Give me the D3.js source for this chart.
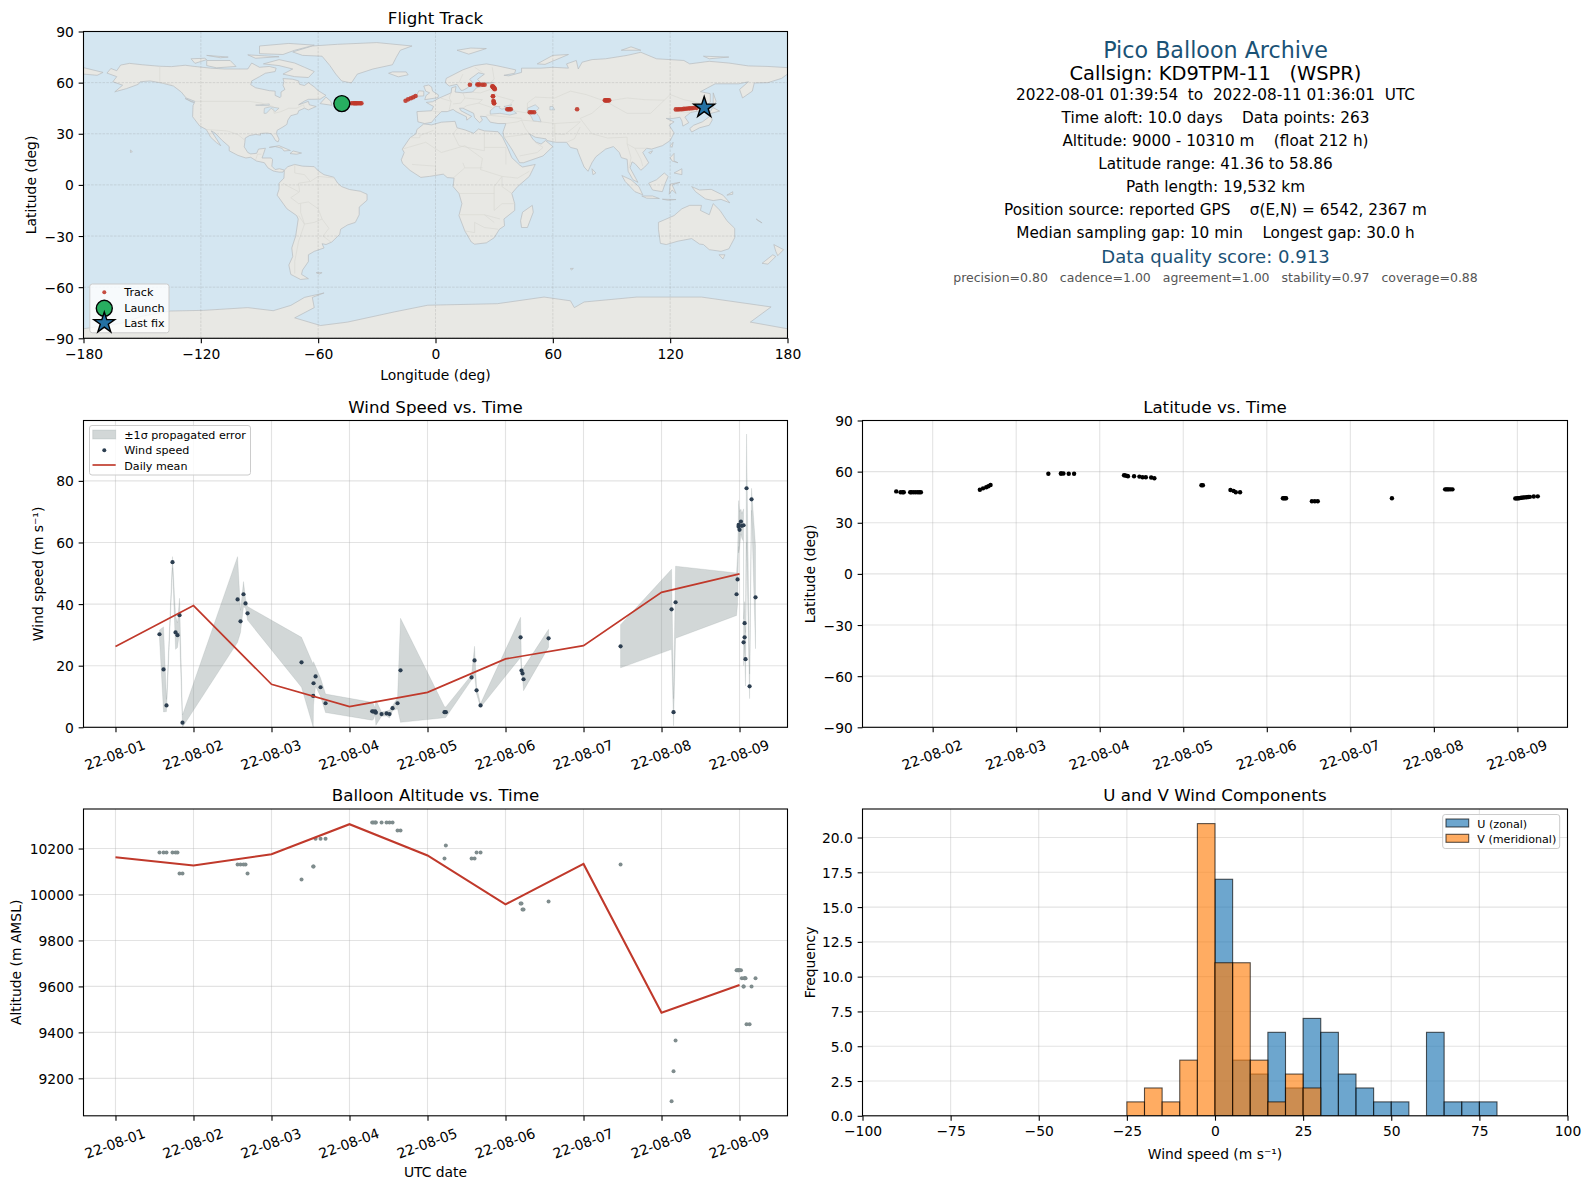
<!DOCTYPE html>
<html>
<head>
<meta charset="utf-8">
<title>Pico Balloon Archive</title>
<script src="https://cdn.jsdelivr.net/npm/d3@7"></script>
<style>
html, body { margin: 0; padding: 0; background: #fff; }
svg text { font-family: "DejaVu Sans", sans-serif; fill: #000; }
</style>
</head>
<body>
<div id="drawing-area"></div>
<script>
// tick labels
var dateLabels = ['22-08-01','22-08-02','22-08-03','22-08-04','22-08-05','22-08-06','22-08-07','22-08-08','22-08-09'];
var lonTicks = [-180,-120,-60,0,60,120,180];
var latTicks = [-90,-60,-30,0,30,60,90];
var windTicks = [0,20,40,60,80];
var altTicks = [9200,9400,9600,9800,10000,10200];
var histXTicks = [-100,-75,-50,-25,0,25,50,75,100];
var histYTicks = [0,2.5,5,7.5,10,12.5,15,17.5,20];

// daily means, index = days since 22-08-01
var meanDays = [0,1,2,3,4,5,6,7,8];
var meanWind = [26.2,39.5,13.95,6.7,11.35,22.2,26.5,43.8,49.8];
var meanAlt = [10162,10126,10175,10306,10170,9957,10133,9486,9606];

// wind samples (null = break in the error band)
var windTime = [.564,.616,.654,.731,.770,.795,.821,.859,1.565,1.603,1.641,1.667,1.693,2.385,2.535,2.539,2.565,2.629,2.693,
  3.291,3.308,3.329,3.338,3.411,3.475,3.513,3.552,3.616,3.654,4.218,4.235,4.565,4.603,4.629,4.680,5.193,5.205,5.218,5.231,5.552,
  6.000,6.475,7.129,7.154,7.180,7.962,7.975,7.988,7.988,8.000,8.018,8.030,8.052,8.052,8.065,8.065,8.077,8.090,8.129,8.154,8.205];
var windSpeed = [30.2,18.8,7.1,53.6,30.8,29.9,36.4,1.5,41.5,34.4,43.2,40.2,37.0,21.1,10.2,14.3,16.5,13.0,7.8,
  5.2,5.1,5.2,4.75,4.3,4.5,4.3,6.2,7.8,18.5,4.9,4.9,16.2,21.7,12.0,7.1,29.2,18.4,17.5,15.6,28.9,
  null,26.3,38.3,4.9,40.6,43.2,48.0,65.7,65.1,64.1,66.8,65.4,65.6,27.6,33.8,29.2,22.1,77.6,13.3,74.0,42.2];
var windErr = [1.4,13.8,2,1.8,5.5,4,5.5,2.5,13.9,3.6,4.1,1.5,2.2,8.1,10.2,7,3.2,3,3,
  2.9,2.5,1,4.1,.7,.8,1.3,.8,1.8,16.9,1.8,1.7,.8,4.6,1.2,.6,6.5,1.5,1.5,3.7,2.9,
  null,7,13,4.4,11.7,6.9,8,7,8.5,6,4,4,5.3,7.6,7,5,8.7,17.6,4,3.6,16.7];
var windAlt = [10183,10183,10183,10183,10183,10183,10091,10091,10130,10130,10130,10130,10091,10065,10122,10122,10243,10243,10243,
  10313,10313,10313,10313,10313,10313,10313,10313,10278,10278,10157,10213,10157,10157,10183,10183,9961,9961,9935,9935,9970,
  null,10130,9100,9231,9365,9670,9670,9670,9670,9670,9670,9635,9600,9600,9635,9635,9635,9435,9435,9600,9635];

// position samples
var trackTime = [.564,.616,.640,.654,.731,.745,.770,.795,.821,.840,.859,1.565,1.603,1.641,1.667,1.693,2.385,2.535,2.539,2.565,2.629,2.693,
  3.291,3.308,3.329,3.338,3.411,3.475,3.513,3.552,3.616,3.654,4.218,4.235,4.565,4.603,4.629,4.680,5.193,5.205,5.218,5.231,5.540,5.575,5.610,
  6.498,7.135,7.150,7.165,7.180,7.200,7.223,7.975,7.990,8.005,8.020,8.035,8.050,8.070,8.090,8.110,8.130,8.150,8.196,8.244];
var trackLat = [48.4,47.9,47.9,47.9,47.9,47.9,47.9,47.9,47.9,47.9,47.9,49.4,50.2,50.8,51.4,52.2,58.8,58.9,58.9,58.9,58.8,58.8,
  57.85,57.7,57.5,57.3,57.3,57.1,56.7,56.7,56.6,56.1,52,52,49.25,48.7,47.9,47.9,44.4,44.4,44.4,44.4,42.6,42.6,42.6,
  44.4,49.6,49.6,49.6,49.6,49.6,49.6,44.3,44.3,44.4,44.4,44.6,44.7,44.8,44.9,45.0,45.1,45.2,45.4,45.5];
var trackLon = [-47.9,-45,-43,-42,-41.5,-41,-40.5,-40,-39.2,-38.5,-37.9,-15.3,-14,-12.6,-11.4,-10.2,17.6,21.4,21.9,22.5,24,25.1,
  29.1,29.2,29.4,29.5,29.6,29.7,29.9,30,30.2,30.3,29.4,29.4,29.6,29.8,29.9,30,36.7,37.2,37.9,38.5,48.2,49.2,50.4,
  72.4,86.6,87,87.4,87.8,88.3,88.8,122.9,124,125,126,127,128,129,130,131,132,133.5,135.7,137.4];
var launchLon = [-47.9], launchLat = [47.7], lastLon = [137.4], lastLat = [45.4];

// histogram of wind components, 5 m/s bins, left edges
var histBins = [-25,-20,-15,-10,-5,0,5,10,15,20,25,30,35,40,45,50,55,60,65,70,75];
var uCounts = [0,0,0,0,0,17,4,3,6,2,7,6,3,2,1,1,0,6,1,1,1];
var vCounts = [1,2,1,4,21,11,11,4,1,3,2,0,0,0,0,0,0,0,0,0,0];

// land outlines as lon,lat pairs (rough, read from the map)
var landShapes = [
 [[-168,65.6],[-166,68.3],[-163,67],[-161,70.3],[-156.5,71.3],[-150,70.5],[-141,69.6],[-135,69.4],[-128,70.2],[-124,69.6],[-115,68.5],[-108,68],[-100,68],[-96,68],[-94,71.5],[-90,69],[-85,69.5],[-81.5,68.5],[-82,66.5],[-87,65.5],[-90,63.5],[-94,61],[-94.5,58.8],[-92,57],[-85,55.3],[-82,55],[-82,52.5],[-79.5,51.2],[-79,52],[-79,54.5],[-77,56],[-78,58.5],[-77.5,60.5],[-78,62.4],[-73,62],[-70,61],[-69.5,59],[-67,58.3],[-65,60],[-62,57.5],[-60,55.3],[-56,52.5],[-59,50.3],[-65,50.2],[-67,49.2],[-70,47],[-65,49],[-64.5,47],[-61,46],[-65,44],[-67,45],[-70,43.5],[-70.5,41.7],[-74,40.6],[-75.5,38],[-76,35.5],[-78,34],[-81,32],[-81.3,30],[-80,26.8],[-80.5,25.2],[-81.8,26],[-82.8,28],[-84,30],[-86,30.4],[-89.5,30.2],[-89.5,29.2],[-92,29.6],[-95,29],[-97.3,27.5],[-97.5,25],[-97.8,22.3],[-96,19],[-94.5,18.2],[-91.5,18.5],[-90.5,21],[-87,21.5],[-88,18],[-88.7,15.8],[-84,15.8],[-83.3,14.8],[-83.7,11],[-82,9],[-79.8,9.5],[-77.3,8.7],[-78,7.5],[-80,7.5],[-81.5,7.8],[-83,8.2],[-85.7,10],[-87.5,13],[-91.5,14],[-94.5,16.2],[-97,15.8],[-101,17.3],[-105.5,20],[-105.5,22.5],[-109,26],[-112.8,30.5],[-114.7,31.7],[-112,27],[-109.8,23],[-112,24.8],[-115,28],[-117.2,32.5],[-120.6,34.6],[-124.2,40],[-124,46.5],[-123,49],[-127.5,51],[-130,54.5],[-134,58],[-140,59.8],[-146,61],[-151,60.5],[-152,59],[-158,56.5],[-164,54.6],[-160,58.5],[-165,60.5],[-163,63.5]],
 [[-73,78],[-68,76],[-58,75.5],[-54,70],[-51,65],[-48,61],[-43,59.8],[-40,65],[-32,68],[-22,70.5],[-20,75],[-18,79],[-12,81.5],[-30,83.5],[-50,82.5],[-63,81.5]],
 [[-80,73.5],[-72,71.5],[-67,69],[-62,66.5],[-65,63],[-72,63.5],[-78,65],[-73,68],[-80,70],[-88,71]],
 [[-117,73],[-105,73],[-102,69.5],[-112,68.7],[-117,70]],
 [[-125,74],[-118,74.3],[-117,73.5],[-123,71.3]],
 [[-90,77],[-78,76.5],[-72,79],[-62,82],[-75,83],[-90,81.5]],
 [[-96,76.3],[-80,75.2],[-92,74.3]],
 [[-117,76],[-106,75],[-110,74.6]],
 [[-59,47.7],[-53,46.7],[-53.5,49],[-56,51.5]],
 [[-128,50.7],[-123.5,48.4],[-125,48.8]],
 [[-85,22],[-80,23],[-74.2,20.2],[-77.5,19.9],[-78.5,21.5],[-82,22.5]],
 [[-74.4,18.4],[-72.8,19.9],[-68.5,18.7],[-71,18]],
 [[-156,20.5],[-155,19.5],[-156,19]],
 [[-77.3,8.7],[-75.5,10.7],[-72,12],[-68,11],[-62,10.7],[-60,8.3],[-57,6],[-52,4.5],[-50,1],[-48,-1],[-44,-2.7],[-38.5,-3.7],[-35,-5.5],[-35,-9],[-39,-13],[-39,-17.5],[-41,-22],[-45,-23.5],[-48.5,-26],[-49,-29],[-53,-33.5],[-56,-35],[-58,-34.5],[-57,-37],[-62,-39],[-65,-41],[-65,-45],[-68,-50],[-68.5,-52.5],[-65,-55],[-69,-55.5],[-74,-52.5],[-75,-47],[-73,-42],[-73.5,-37],[-71.5,-30],[-70.2,-20],[-71,-18],[-76,-14],[-81,-6],[-80,-2.5],[-80,1],[-77.5,4]],
 [[-61,-51.5],[-58,-51.5],[-59.5,-52.3]],
 [[-6,35.8],[-2,35.2],[3,36.8],[10,37.3],[11,33.5],[15,32.3],[19.5,30.3],[22,32.8],[25,31.7],[32,31.2],[34.3,28],[37,21.5],[39,16],[43,11.7],[44.5,10.5],[51,12],[48,5],[42,-1],[39,-5],[40.5,-11],[40.5,-15],[35,-20],[35.3,-24],[32.7,-26],[30,-31],[26,-34],[20,-34.8],[18.3,-33.5],[15,-27],[12,-18],[13.5,-11],[12,-5],[9,-1],[9.5,4],[6,4.3],[4,6.3],[-3,5],[-7.5,4.4],[-13,8.5],[-16.8,12.5],[-17.5,14.7],[-16,19],[-17,21],[-13,27.7],[-10,30],[-9.5,32.5]],
 [[-5.5,36],[-9,37],[-9.5,43],[-2,43.5],[-1,46],[-4.7,48.4],[-1.5,48.8],[2,51],[4,52],[8,54],[8.3,57],[10.5,57.7],[10,54.5],[14,54],[19,54.5],[21,57],[24,57.8],[24,59.3],[30,60],[23,60],[21.5,62],[25,65],[22,65.8],[17.5,62],[19,60],[16.5,57],[14,55.5],[13,55.5],[11,59],[7,58],[5,60],[5.5,62.5],[14,67.5],[20,70],[26,71],[31,70],[41,67.5],[40.5,65.5],[35,64.3],[37.5,64],[44,66],[44,68.5],[54,68.5],[60,69],[68,68.5],[67,71],[72,73],[73,68],[75,72],[80,73.5],[87,74],[98,76],[105,77.8],[113,74],[127,73],[130,71],[140,72.5],[150,71.5],[160,69.8],[170,69.5],[180,68.8],[180,65],[177,62.5],[170,60],[163,59.8],[162,55],[157,51],[155.5,56],[160,60.5],[155,59.3],[143,59.3],[135.5,54.7],[140.5,53.5],[140.5,48.5],[135,43.5],[130.5,42.5],[127.5,39.8],[129.5,36.5],[126.5,34.5],[126,37.5],[125,39.7],[121.5,39],[118,39],[122,37],[119.5,35],[122,30.5],[120,26],[116,23],[110.5,21],[108,21.5],[106,19],[109,13],[107,10.5],[105,8.6],[102,12.5],[100.5,13.5],[99.5,10],[103.5,1.5],[101,3],[98.5,8],[98,15],[95,16],[94,19],[91,22.5],[87,21],[82,16.5],[80,13],[78,8],[76,10.5],[73,19],[72.5,21],[69,22],[67,25],[61.5,25],[57,26],[56.5,27],[51,28],[48,30],[50,26.5],[51.5,25],[54,24],[56.3,26],[60,22.5],[55,17],[45,13],[43,13],[39,21],[35,28],[34.5,31],[36,36],[32,36],[28,36.8],[26.5,39],[26,40],[23,40.3],[24,38],[22.5,36.5],[20,39.5],[19.5,42],[14,45],[12.3,45],[13,43.5],[18.5,40.2],[16,38],[15.8,40],[10.5,43],[9,44.3],[6,43],[3,43],[0,39.5],[-2,36.7]],
 [[-180,68.8],[-170,66],[-173,64.3],[-180,65]],
 [[-5.5,50],[1.3,51.2],[1.5,52.8],[-1.5,55],[-2,57.5],[-3.5,58.6],[-6,58],[-5,55],[-3,54],[-4.8,52.5]],
 [[-10,52],[-6,52.2],[-6,55],[-8.5,55.2]],
 [[-24,65.5],[-19,63.4],[-14,64.6],[-15,66.3],[-22,66.3]],
 [[11,79],[17,76.7],[26,80],[18,80.3]],
 [[52,71],[56,70.7],[68,76.5],[60,76]],
 [[95,79],[105,79],[100,81]],
 [[137,75.5],[150,75],[140,74]],
 [[142,54],[143.5,49],[142,46],[142,50]],
 [[140,42],[141.8,45.4],[145.3,43.3],[141,42]],
 [[130,33],[131,31],[135,33.5],[140,35],[141.5,38],[141,41],[140,40],[136.5,37],[132,35]],
 [[120,23],[121.5,25],[121,22]],
 [[109,19],[111,20],[110,18.3]],
 [[120,16],[122,18.5],[122,14],[124,13],[121,14]],
 [[122,7],[126,9.5],[126,6]],
 [[109,1],[113,3],[117,7],[119,5],[117.5,1],[116,-4],[111,-3]],
 [[95.3,5.5],[100,3],[104,-1],[106,-5.8],[102,-4],[97,2]],
 [[105.5,-6.5],[111,-6.5],[114.5,-8],[108,-7.8]],
 [[116,-8.4],[120,-8.5],[123,-8.6],[119,-9]],
 [[119.5,-5.5],[120,.5],[125,1.5],[121,0],[123,-5],[121,-3]],
 [[131,-1],[135,-3],[141,-2.6],[147,-6],[150.5,-10.5],[146,-8.5],[142,-9.2],[138,-8.2],[133,-4]],
 [[149,-6],[152,-4],[152,-5.5]],
 [[114,-22],[122,-18],[126,-14],[130,-12],[136,-12],[135.5,-15],[140,-17.5],[142,-11],[145.5,-15],[149,-21],[153,-25.5],[153,-31],[150,-37.5],[146,-39],[140,-38],[137,-35],[135,-34.7],[131,-31.5],[124,-33],[118,-35],[115,-34.3],[114,-26]],
 [[145,-41],[148,-41],[147,-43.5]],
 [[173,-35],[178,-38],[175,-41.5],[174,-39]],
 [[172.5,-41],[174,-42],[170,-46.5],[167,-46]],
 [[165,-21],[167,-22.3],[164,-20]],
 [[49.5,-12],[50,-16],[47,-25],[44,-25],[43.5,-21],[44.5,-16]],
 [[80,9.5],[82,7],[80.5,6]],
 [[69,-49],[70.5,-49],[69.5,-50]],
 [[-180,-84.4],[-160,-81],[-150,-77],[-135.6,-74],[-118.6,-73.6],[-96,-72],[-83,-73.8],[-74,-70.7],[-67,-66],[-57,-63.4],[-63,-66],[-62,-72],[-72,-78],[-58.8,-82.5],[-45,-80.5],[-21,-74.5],[-4,-70.6],[31.6,-69.7],[55.5,-65.8],[69,-68],[71,-72],[76,-68.7],[103,-65.8],[136,-65.8],[171.6,-71.6],[161,-80.5],[180,-84.4],[180,-90],[-180,-90]]
];
var waterShapes = [
 [[28,41.5],[28,43.5],[30.5,46],[33,46],[32.5,45.2],[34,44.4],[36.5,45.2],[35,46],[39,47],[37.5,45.5],[41.5,42],[38,41],[33,42]],
 [[47,45],[51,47],[53,45],[51,43],[53,40],[54,37],[50,37.5],[49,40],[47,43]],
 [[-92,46.8],[-85,47.5],[-85,46.5],[-90,46.6]],
 [[-87.5,45],[-84.5,45.8],[-80,45],[-82,43],[-84,45],[-86.5,42],[-87.7,42]],
 [[60,46],[61,44],[58.5,44],[58.5,46]]
];
var borderLines = [
 [[-123,49],[-95,49],[-89,48],[-83,46],[-82.5,42],[-79,43],[-75,45],[-71,45],[-67.5,47],[-67,45]],
 [[-141,69.6],[-141,60],[-135,59]],
 [[-117,32.5],[-107,31.7],[-106,31.5],[-101,29.5],[-97.3,26]],
 [[-92,14.5],[-91,18],[-89,18]],
 [[-51.5,4],[-60,5],[-64,2],[-70,1],[-69.5,-4],[-74,-7.5],[-70,-11],[-65,-10],[-60,-14],[-58,-20],[-54.5,-25.5],[-57.5,-30],[-53.5,-33.5]],
 [[-70,-18],[-67,-23],[-70,-33],[-72,-45],[-72,-52]],
 [[-78,1],[-75,-1],[-70,-4]],[[-72,12],[-72,7],[-67,6],[-64,2]],[[-69,-11],[-69,-16],[-67,-23],[-62,-22],[-58,-20]],
 [[-13,27.7],[-8,27.7],[-8,29],[-1,32]],[[11,33],[9,30],[12,23],[25,20],[25,31.5]],[[25,22],[36,22]],
 [[-17,21],[-5,25],[3,19],[15,23],[24,15.5],[23,9],[34,5],[42,4],[48,8]],
 [[12,-5],[30,-5],[30,-15]],[[12,-17.5],[25,-17.5],[33,-20]],[[15,-27],[20,-28],[20,-22],[25,-25],[32,-26]],
 [[9,4],[15,10],[14,13]],[[0,6],[0,11],[-12,12]],[[15,10],[24,10]],[[34,5],[30,-1],[30,-5]],[[39,-5],[34,-1],[34,5]],
 [[40.5,-11],[34,-11],[30,-15]],[[36,12],[36,22]],[[25,-17.5],[30,-22]],
 [[28,60],[28,56],[32,52],[40,49.5],[38,47],[40,43.5],[48,42],[47,45],[47,48],[51,51.5],[61,51],[69,55],[77,53],[87,49],[98,51],[107,50],[117,49.7],[120,53],[127,50],[135,48],[131,43]],
 [[74,39],[80,30],[88,27.5],[98,28],[98,24],[102,21.5],[108,21.5]],[[74,39],[80,42],[87,49]],[[98,42],[110,42],[117,49.7]],[[87,49],[98,42]],
 [[44,38],[46,33],[48,30]],[[44,38],[54,37]],[[61,36],[61,30],[61.5,25]],[[26,41],[44,39]],[[36,36],[42,37],[44,38]],[[54,37],[61,36],[74,37]],[[61,30],[66,29.5],[71,34],[74,37]],[[67,25],[71,27],[74,34]],
 [[35,28],[42,29],[48,30]],[[52,19],[55,22],[51,25]],[[43,17],[52,19]],
 [[-1.5,43.3],[3,42.5]],[[2.5,51],[8,49],[7,44]],[[14,54],[15,51],[24,50],[22,48],[29,45.3]],[[19,54.3],[23,54],[28,56]],[[8,54],[7,51],[8,49]],[[15,51],[13,48],[9,47.5]],[[22,48],[16,46.5],[14,45]],
 [[29,69],[30,62],[28,60]],[[20,69],[24,66]],[[14,65],[12,60]],
 [[98,24],[100,16],[99,10]],[[102,21.5],[105,15],[106,11]],[[125,43],[130.5,42.5]]
];

var sx = 1590, sy = 1189;
var svg = d3.select('#drawing-area').append('svg').attr('width', sx).attr('height', sy).style('display', 'block');

var PT = 100 / 72;
var tickFont = 10 * PT, titleFont = 12 * PT, labelFont = 10 * PT, legendFont = 8 * PT;
var tickLen = 3.5 * PT;
var RED = '#c0392b';

var colLeft = [83.5, 862.5], colWidth = [704, 705];
var rowTop = [31.5, 420.5, 809], rowHeight = 306.8;

var clipCount = 0;

// one axes box with grid, ticks, title
function makePanel(o) {
    var left = colLeft[o.col], top = rowTop[o.row], w = colWidth[o.col], h = rowHeight;
    var x = d3.scaleLinear().domain(o.xDomain).range([left, left + w]);
    var y = d3.scaleLinear().domain(o.yDomain).range([top + h, top]);
    var id = 'clip' + (clipCount++);
    svg.append('clipPath').attr('id', id).append('rect').attr('x', left).attr('y', top).attr('width', w).attr('height', h);

    var back = svg.append('g');
    var body = svg.append('g').attr('clip-path', 'url(#' + id + ')');
    var front = svg.append('g');

    if (!o.noGrid) drawGrid(back, x, y, o, { stroke: '#b0b0b0', opacity: 0.35, width: 1.1, dash: null });

    var xAxis = d3.axisBottom(x).tickValues(o.xTicks).tickSize(tickLen).tickSizeOuter(0).tickPadding(4.8).tickFormat(o.xFormat);
    var yAxis = d3.axisLeft(y).tickValues(o.yTicks).tickSize(tickLen).tickSizeOuter(0).tickPadding(4.8).tickFormat(o.yFormat);
    var gx = front.append('g').attr('transform', 'translate(0,' + (top + h) + ')').call(xAxis);
    var gy = front.append('g').attr('transform', 'translate(' + left + ',0)').call(yAxis);
    [gx, gy].forEach(function (g) {
        g.select('.domain').remove();
        g.selectAll('line').attr('stroke', '#000').attr('stroke-width', 1.1);
        g.selectAll('text').attr('font-size', tickFont).attr('font-family', '"DejaVu Sans"');
    });
    gy.selectAll('text').attr('dy', '0.36em');
    gx.selectAll('text').attr('dy', '0.77em');
    if (o.rotate) {
        gx.selectAll('text')
            .attr('y', 0).attr('dy', null)
            .attr('dominant-baseline', 'central')
            .attr('text-anchor', 'middle')
            .attr('transform', 'translate(-1,27.5) rotate(-20)');
    }

    front.append('rect').attr('x', left).attr('y', top).attr('width', w).attr('height', h)
        .attr('fill', 'none').attr('stroke', '#000').attr('stroke-width', 1.1);

    front.append('text').attr('x', left + w / 2).attr('y', top - 8).attr('text-anchor', 'middle')
        .attr('font-size', titleFont).text(o.title);
    if (o.xLabel) {
        front.append('text').attr('x', left + w / 2).attr('y', top + h + (o.xLabelGap || 41.5)).attr('text-anchor', 'middle')
            .attr('font-size', labelFont).text(o.xLabel);
    }
    if (o.yLabel) {
        front.append('text').attr('transform', 'translate(' + (left + (o.yLabelGap || -48)) + ',' + (top + h / 2) + ') rotate(-90)')
            .attr('text-anchor', 'middle').attr('font-size', labelFont).text(o.yLabel);
    }
    return { x: x, y: y, back: back, body: body, front: front, left: left, top: top, w: w, h: h };
}

function drawGrid(g, x, y, o, st) {
    var ln = g.append('g').attr('fill', 'none').attr('stroke', st.stroke).attr('stroke-opacity', st.opacity)
        .attr('stroke-width', st.width).attr('stroke-dasharray', st.dash);
    o.xTicks.forEach(function (t) {
        ln.append('line').attr('x1', x(t)).attr('x2', x(t)).attr('y1', y.range()[0]).attr('y2', y.range()[1]);
    });
    o.yTicks.forEach(function (t) {
        ln.append('line').attr('y1', y(t)).attr('y2', y(t)).attr('x1', x.range()[0]).attr('x2', x.range()[1]);
    });
}

function fmtMinus(d) { return String(d).replace('-', '\u2212'); }
function fmtDate(d) { return dateLabels[d]; }

function legendBox(p, bx, by, bw, bh) {
    return p.front.append('rect').attr('x', bx).attr('y', by).attr('width', bw).attr('height', bh).attr('rx', 2.5)
        .attr('fill', '#fff').attr('fill-opacity', 0.8).attr('stroke', '#ccc').attr('stroke-width', 1);
}
function legendText(p, tx, cy, label) {
    p.front.append('text').attr('x', tx).attr('y', cy).attr('dy', '0.36em').attr('font-size', legendFont).text(label);
}

// ---- flight track
var mp = makePanel({
    col: 0, row: 0, title: 'Flight Track', noGrid: true,
    xDomain: [-180, 180], yDomain: [-90, 90], xTicks: lonTicks, yTicks: latTicks,
    xFormat: fmtMinus, yFormat: fmtMinus, xLabel: 'Longitude (deg)', yLabel: 'Latitude (deg)', xLabelGap: 41.5
});
mp.body.append('rect').attr('x', mp.left).attr('y', mp.top).attr('width', mp.w).attr('height', mp.h).attr('fill', '#d4e6f1');
var geoLine = d3.line().x(function (d) { return mp.x(d[0]); }).y(function (d) { return mp.y(d[1]); });
mp.body.selectAll('path.land').data(landShapes).enter().append('path').attr('class', 'land')
    .attr('d', function (d) { return geoLine(d) + 'Z'; })
    .attr('fill', '#e8e8e4').attr('stroke', '#b8bcbe').attr('stroke-width', 0.7);
mp.body.selectAll('path.lake').data(waterShapes).enter().append('path').attr('class', 'lake')
    .attr('d', function (d) { return geoLine(d) + 'Z'; })
    .attr('fill', '#d4e6f1').attr('stroke', '#b8bcbe').attr('stroke-width', 0.6);
mp.body.selectAll('path.border').data(borderLines).enter().append('path').attr('class', 'border')
    .attr('d', geoLine).attr('fill', 'none').attr('stroke', '#d6d6d2').attr('stroke-width', 0.6);
drawGrid(mp.body, mp.x, mp.y, { xTicks: lonTicks, yTicks: latTicks }, { stroke: '#808080', opacity: 0.3, width: 0.7, dash: '2.6,1.2' });

mp.body.selectAll('circle.trk').data(trackLon).enter().append('circle').attr('class', 'trk')
    .attr('cx', function (d) { return mp.x(d); })
    .attr('cy', function (d, i) { return mp.y(trackLat[i]); })
    .attr('r', 2.3).attr('fill', RED).attr('fill-opacity', 0.9);
mp.body.append('circle').attr('cx', mp.x(launchLon[0])).attr('cy', mp.y(launchLat[0])).attr('r', 8)
    .attr('fill', '#27ae60').attr('stroke', '#000').attr('stroke-width', 1.4);
var starPath = d3.symbol().type(d3.symbolStar).size(136)();
mp.body.append('path').attr('d', starPath)
    .attr('transform', 'translate(' + mp.x(lastLon[0]) + ',' + mp.y(lastLat[0]) + ')')
    .attr('fill', '#2471a3').attr('stroke', '#000').attr('stroke-width', 1.4);

legendBox(mp, 89.8, 284, 79.2, 48.8);
mp.front.append('circle').attr('cx', 104.3).attr('cy', 292.3).attr('r', 2).attr('fill', RED).attr('fill-opacity', 0.9);
mp.front.append('circle').attr('cx', 104.3).attr('cy', 308.3).attr('r', 8).attr('fill', '#27ae60').attr('stroke', '#000').attr('stroke-width', 1.4);
mp.front.append('path').attr('d', starPath).attr('transform', 'translate(104.3,323)').attr('fill', '#2471a3').attr('stroke', '#000').attr('stroke-width', 1.4);
legendText(mp, 124.3, 292.3, 'Track');
legendText(mp, 124.3, 308, 'Launch');
legendText(mp, 124.3, 323, 'Last fix');

// ---- summary text
var infoX = 1215.5;
var infoLines = [
    { t: 'Pico Balloon Archive', y: 50, s: 16, c: '#1a5276' },
    { t: 'Callsign: KD9TPM-11   (WSPR)', y: 72.7, s: 14, c: '#000' },
    { t: '2022-08-01 01:39:54  to  2022-08-11 01:36:01  UTC', y: 94, s: 11, c: '#000' },
    { t: 'Time aloft: 10.0 days    Data points: 263', y: 117.3, s: 11, c: '#000' },
    { t: 'Altitude: 9000 - 10310 m    (float 212 h)', y: 140.3, s: 11, c: '#000' },
    { t: 'Latitude range: 41.36 to 58.86', y: 163.3, s: 11, c: '#000' },
    { t: 'Path length: 19,532 km', y: 186.3, s: 11, c: '#000' },
    { t: 'Position source: reported GPS    \u03c3(E,N) = 6542, 2367 m', y: 209.3, s: 11, c: '#000' },
    { t: 'Median sampling gap: 10 min    Longest gap: 30.0 h', y: 232.3, s: 11, c: '#000' },
    { t: 'Data quality score: 0.913', y: 256.7, s: 13, c: '#1a5276' },
    { t: 'precision=0.80   cadence=1.00   agreement=1.00   stability=0.97   coverage=0.88', y: 277.7, s: 9, c: '#555' }
];
svg.selectAll('text.info').data(infoLines).enter().append('text').attr('class', 'info')
    .attr('x', infoX).attr('y', function (d) { return d.y; }).attr('dy', '0.36em')
    .attr('text-anchor', 'middle').attr('xml:space', 'preserve').style('white-space', 'pre')
    .attr('font-size', function (d) { return d.s * PT; })
    .style('fill', function (d) { return d.c; })
    .text(function (d) { return d.t; });

// ---- wind speed
var wp = makePanel({
    col: 0, row: 1, title: 'Wind Speed vs. Time', rotate: true,
    xDomain: [-.41, 8.615], yDomain: [0, 99.6], xTicks: meanDays, yTicks: windTicks,
    xFormat: fmtDate, yFormat: fmtMinus, yLabel: 'Wind speed (m s\u207b\u00b9)', yLabelGap: -41
});
var windIdx = d3.range(windTime.length);
var band = d3.area()
    .defined(function (i) { return windSpeed[i] !== null; })
    .x(function (i) { return wp.x(windTime[i]); })
    .y0(function (i) { return wp.y(Math.max(0, windSpeed[i] - windErr[i])); })
    .y1(function (i) { return wp.y(windSpeed[i] + windErr[i]); });
wp.body.append('path').datum(windIdx).attr('d', band)
    .attr('fill', '#7f8c8d').attr('fill-opacity', 0.35).attr('stroke', '#7f8c8d').attr('stroke-opacity', 0.2).attr('stroke-width', 0.8);
wp.body.selectAll('circle.w').data(windIdx.filter(function (i) { return windSpeed[i] !== null; })).enter().append('circle').attr('class', 'w')
    .attr('cx', function (i) { return wp.x(windTime[i]); })
    .attr('cy', function (i) { return wp.y(windSpeed[i]); })
    .attr('r', 2.1).attr('fill', '#2c3e50');
var meanLine = d3.line().x(function (d, i) { return wp.x(meanDays[i]); }).y(function (d) { return wp.y(d); });
wp.body.append('path').datum(meanWind).attr('d', meanLine).attr('fill', 'none').attr('stroke', RED).attr('stroke-width', 1.5 * PT * 0.8);

legendBox(wp, 89.5, 425.5, 161, 49.5);
wp.front.append('rect').attr('x', 92.7).attr('y', 430).attr('width', 23).attr('height', 9).attr('fill', '#7f8c8d').attr('fill-opacity', 0.35).attr('stroke', '#7f8c8d').attr('stroke-opacity', 0.2);
wp.front.append('circle').attr('cx', 104.3).attr('cy', 450.3).attr('r', 2).attr('fill', '#2c3e50');
wp.front.append('line').attr('x1', 92.5).attr('x2', 115.7).attr('y1', 465).attr('y2', 465).attr('stroke', RED).attr('stroke-width', 1.5 * PT * 0.8);
legendText(wp, 124.3, 435.3, '\u00b11\u03c3 propagated error');
legendText(wp, 124.3, 450.3, 'Wind speed');
legendText(wp, 124.3, 466, 'Daily mean');

// ---- latitude
var lp = makePanel({
    col: 1, row: 1, title: 'Latitude vs. Time', rotate: true,
    xDomain: [.16, 8.6], yDomain: [-90, 90], xTicks: meanDays.slice(1), yTicks: latTicks,
    xFormat: fmtDate, yFormat: fmtMinus, yLabel: 'Latitude (deg)'
});
lp.body.selectAll('circle.l').data(trackTime).enter().append('circle').attr('class', 'l')
    .attr('cx', function (d) { return lp.x(d); })
    .attr('cy', function (d, i) { return lp.y(trackLat[i]); })
    .attr('r', 2.2).attr('fill', '#000');

// ---- altitude
var ap = makePanel({
    col: 0, row: 2, title: 'Balloon Altitude vs. Time', rotate: true,
    xDomain: [-.41, 8.615], yDomain: [9037, 10372], xTicks: meanDays, yTicks: altTicks,
    xFormat: fmtDate, yFormat: function (d) { return String(d); }, xLabel: 'UTC date', xLabelGap: 61, yLabel: 'Altitude (m AMSL)', yLabelGap: -63
});
ap.body.selectAll('circle.a').data(windIdx.filter(function (i) { return windAlt[i] !== null; })).enter().append('circle').attr('class', 'a')
    .attr('cx', function (i) { return ap.x(windTime[i]); })
    .attr('cy', function (i) { return ap.y(windAlt[i]); })
    .attr('r', 2).attr('fill', '#7f8c8d');
var altLine = d3.line().x(function (d, i) { return ap.x(meanDays[i]); }).y(function (d) { return ap.y(d); });
ap.body.append('path').datum(meanAlt).attr('d', altLine).attr('fill', 'none').attr('stroke', RED).attr('stroke-width', 1.5 * PT);

// ---- histogram
var hp = makePanel({
    col: 1, row: 2, title: 'U and V Wind Components',
    xDomain: [-100, 100], yDomain: [0, 22.05], xTicks: histXTicks, yTicks: histYTicks,
    xFormat: fmtMinus, yFormat: d3.format('.1f'), xLabel: 'Wind speed (m s\u207b\u00b9)', xLabelGap: 43, yLabel: 'Frequency'
});
function drawBars(counts, color) {
    hp.body.selectAll(null).data(histBins.map(function (b, i) { return { b: b, c: counts[i] }; }).filter(function (d) { return d.c > 0; }))
        .enter().append('rect')
        .attr('x', function (d) { return hp.x(d.b); })
        .attr('width', function (d) { return hp.x(d.b + 5) - hp.x(d.b); })
        .attr('y', function (d) { return hp.y(d.c); })
        .attr('height', function (d) { return hp.y(0) - hp.y(d.c); })
        .attr('fill', color).attr('fill-opacity', 0.65)
        .attr('stroke', '#000').attr('stroke-opacity', 0.65).attr('stroke-width', 1.1);
}
drawBars(uCounts, '#1f77b4');
drawBars(vCounts, '#ff7f0e');

legendBox(hp, 1442.7, 814.5, 117, 34);
hp.front.append('rect').attr('x', 1446).attr('y', 819).attr('width', 22.7).attr('height', 8).attr('fill', '#1f77b4').attr('fill-opacity', 0.65).attr('stroke', '#000').attr('stroke-opacity', 0.65).attr('stroke-width', 1.1);
hp.front.append('rect').attr('x', 1446).attr('y', 834.3).attr('width', 22.7).attr('height', 8).attr('fill', '#ff7f0e').attr('fill-opacity', 0.65).attr('stroke', '#000').attr('stroke-opacity', 0.65).attr('stroke-width', 1.1);
legendText(hp, 1477.3, 824, 'U (zonal)');
legendText(hp, 1477.3, 839, 'V (meridional)');
</script>
</body>
</html>
